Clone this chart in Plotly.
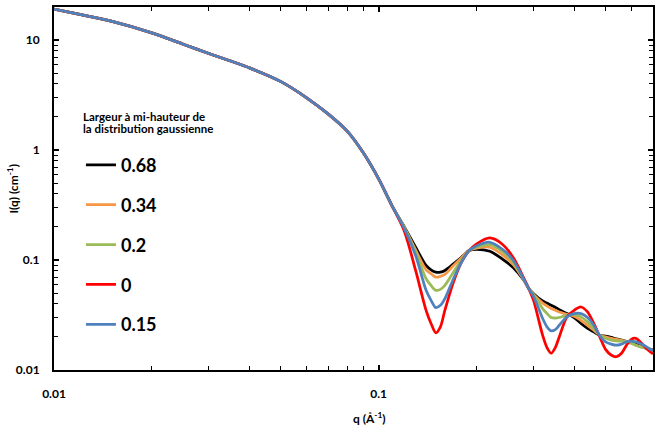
import plotly.graph_objects as go

# ---- data ----
# q values (Å^-1)
q_low = [0.01, 0.012, 0.015, 0.02, 0.025, 0.03, 0.04, 0.05, 0.06, 0.07, 0.08, 0.09, 0.1, 0.11]
q_high = [0.12, 0.13, 0.14, 0.145, 0.15, 0.155, 0.16, 0.17, 0.18, 0.19, 0.2, 0.22, 0.24, 0.26,
          0.28, 0.29, 0.3, 0.32, 0.33, 0.34, 0.35, 0.36, 0.38, 0.4, 0.42, 0.44, 0.46, 0.48,
          0.5, 0.52, 0.54, 0.56, 0.58, 0.6, 0.62, 0.64, 0.66, 0.68, 0.7]

# common low-q part (all curves superimposed)
I_low = [19.15, 17.15, 14.86, 11.64, 9.18, 7.55, 5.59, 4.19, 2.99, 2.12, 1.486, 0.93, 0.547, 0.311]

I_068 = [0.200, 0.1306, 0.0892, 0.0815, 0.0776, 0.0776, 0.0804, 0.0923, 0.106, 0.122, 0.1253, 0.120,
         0.1026, 0.0850, 0.0655, 0.055, 0.0494, 0.0424, 0.0406, 0.0388, 0.0372, 0.0354, 0.0326,
         0.0300, 0.0265, 0.0239, 0.0222, 0.0207, 0.0203, 0.0198, 0.0192, 0.0187, 0.0182, 0.0177,
         0.0171, 0.0165, 0.0160, 0.0156, 0.0152]
I_034 = [0.198, 0.1236, 0.0815, 0.0750, 0.0698, 0.0710, 0.0739, 0.0892, 0.1047, 0.122, 0.128, 0.1306,
         0.112, 0.091, 0.066, 0.055, 0.0487, 0.0406, 0.0382, 0.0362, 0.0349, 0.0337, 0.0321,
         0.0308, 0.0283, 0.0255, 0.0230, 0.0207, 0.0200, 0.0194, 0.0190, 0.0186, 0.0181, 0.0175,
         0.0168, 0.0163, 0.0159, 0.0155, 0.0151]
I_02 = [0.196, 0.1177, 0.0676, 0.0588, 0.0530, 0.0541, 0.0588, 0.0776, 0.1005, 0.122, 0.131, 0.138,
        0.120, 0.0955, 0.0665, 0.055, 0.0480, 0.0362, 0.0326, 0.0300, 0.0297, 0.0300, 0.0315,
        0.0319, 0.0304, 0.0274, 0.0239, 0.0207, 0.0194, 0.0187, 0.0184, 0.0183, 0.0180, 0.0175,
        0.0168, 0.0162, 0.0159, 0.0155, 0.0151]
I_0 = [0.183, 0.0804, 0.0349, 0.0265, 0.0218, 0.0247, 0.0350, 0.0630, 0.0955, 0.122, 0.1396, 0.159,
       0.140, 0.1047, 0.0685, 0.055, 0.0430, 0.0207, 0.0160, 0.0142, 0.0160, 0.0200, 0.0304,
       0.0349, 0.0374, 0.0337, 0.0265, 0.0200, 0.0154, 0.0137, 0.0132, 0.0142, 0.0168, 0.0190,
       0.0194, 0.0180, 0.0163, 0.0150, 0.0140]
I_015 = [0.193, 0.1099, 0.0530, 0.0430, 0.0369, 0.0388, 0.0446, 0.0676, 0.0955, 0.122, 0.1344, 0.145,
         0.126, 0.099, 0.067, 0.055, 0.0467, 0.0294, 0.0247, 0.0227, 0.0233, 0.0255, 0.0304,
         0.0326, 0.0326, 0.0300, 0.0255, 0.0205, 0.0180, 0.0172, 0.0168, 0.0172, 0.0180, 0.0183,
         0.0180, 0.0174, 0.0166, 0.0157, 0.0150]

series_names = ["0.68", "0.34", "0.2", "0", "0.15"]
series_values = [I_068, I_034, I_02, I_0, I_015]
series_colors = ["#000000", "#F79646", "#9BBB59", "#FF0000", "#4F81BD"]

x_ticks = [0.01, 0.1]
x_ticktext = ["0.01", "0.1"]
y_ticks = [0.01, 0.1, 1, 10]
y_ticktext = ["0.01", "0.1", "1", "10"]

legend_title_lines = ["Largeur à mi-hauteur de", "la distribution gaussienne"]

FONT = "Lato"

fig = go.Figure()
for name, vals, col in zip(series_names, series_values, series_colors):
    fig.add_trace(go.Scatter(
        x=q_low + q_high, y=I_low + vals, mode="lines", name=name,
        legendgroup=name,
        line=dict(color=col, width=2.75, shape="spline", smoothing=0.8),
    ))

axis_common = dict(
    type="log", showline=True, linecolor="black", linewidth=2, mirror="ticks",
    ticks="inside", ticklen=5, tickwidth=1.5, tickcolor="black",
    showgrid=False, zeroline=False,
    tickfont=dict(family=FONT, size=12, color="black", weight="bold"),
    minor=dict(ticks="inside", ticklen=4, tickwidth=1.2, tickcolor="black", dtick="D1", showgrid=False),
)

fig.update_xaxes(range=[-2, -0.1549], tickmode="array", tickvals=x_ticks, ticktext=x_ticktext,
                 ticklabelstandoff=12, **axis_common)
fig.update_yaxes(range=[-2, 1.301], tickmode="array", tickvals=y_ticks, ticktext=y_ticktext,
                 ticklabelstandoff=10, **axis_common)

title_font = dict(family=FONT, size=11.5, color="black", weight="bold")
fig.update_layout(
    width=661, height=438,
    margin=dict(l=54, r=8, t=5, b=68),
    paper_bgcolor="white", plot_bgcolor="white",
    showlegend=True,
    legend=dict(x=0.045, y=0.6155, xanchor="left", yanchor="top",
                font=dict(family=FONT, size=18, color="black", weight="bold"),
                bgcolor="rgba(0,0,0,0)", tracegroupgap=13.5, itemwidth=30),
    annotations=[
        dict(text=legend_title_lines[0], xref="paper", yref="paper", x=0.045, y=0.6986,
             xanchor="left", yanchor="middle", showarrow=False, font=title_font),
        dict(text=legend_title_lines[1], xref="paper", yref="paper", x=0.045, y=0.6644,
             xanchor="left", yanchor="middle", showarrow=False, font=title_font),
        dict(text="q (Å<sup>-1</sup>)", xref="paper", yref="paper", x=0.526, y=-0.131,
             xanchor="center", yanchor="middle", showarrow=False,
             font=dict(family=FONT, size=12, color="black", weight="bold")),
        dict(text="I(q) (cm<sup>-1</sup>)", xref="paper", yref="paper", x=-0.070, y=0.50,
             xanchor="center", yanchor="middle", textangle=-90, showarrow=False,
             font=dict(family=FONT, size=12, color="black", weight="bold")),
    ],
)

fig.write_html("out.html")
